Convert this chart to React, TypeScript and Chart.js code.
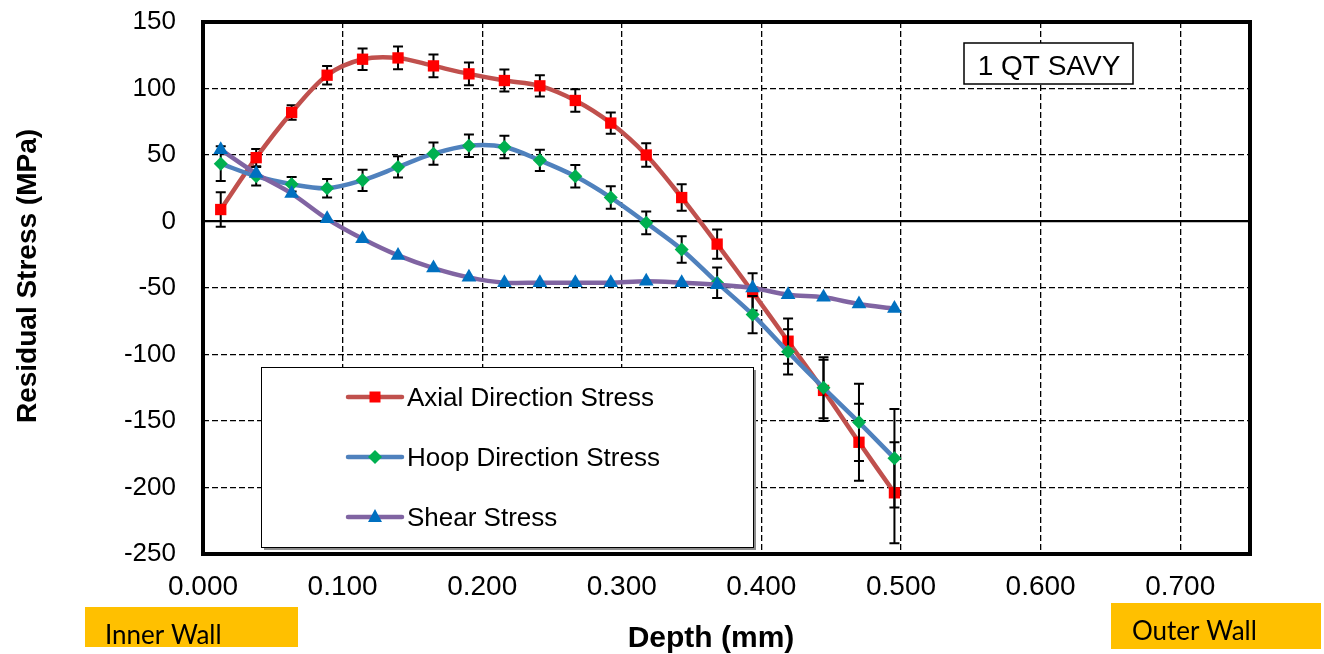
import React, { useEffect, useRef } from 'react';
import { Chart, registerables } from 'chart.js';

Chart.register(...registerables);

// ---- data ----
const depthMm = [
  0.0127, 0.0381, 0.0635, 0.0889, 0.1143, 0.1397, 0.1651, 0.1905, 0.2159, 0.2413,
  0.2667, 0.2921, 0.3175, 0.3429, 0.3683, 0.3937, 0.4191, 0.4445, 0.4699, 0.4953,
];
const axialStress = [9, 48, 82, 110, 122, 123, 117, 111, 106, 102, 91, 74, 50, 18, -17, -53, -90, -127, -166, -204];
const axialError = [13, 6.5, 5.5, 7, 8, 8.5, 8.5, 8.5, 8.3, 8, 8.4, 8, 8.8, 10, 11, 14, 17, 23, 29, 38];
const hoopStress = [43.5, 34, 28, 25, 31, 41, 51, 57, 56, 46, 34, 18, -1, -21, -46, -70, -98, -125, -151, -178];
const hoopError = [13, 7, 5.5, 7, 8, 8, 8.4, 8.5, 8.5, 8, 8.5, 8.5, 8.5, 10, 11.5, 14, 17, 23, 29, 37];
const shearStress = [54, 36, 21, 2, -13, -25.5, -35, -42, -46, -46, -46, -46, -45, -46, -47.5, -50, -55, -57, -62, -65.5];

const seriesNames = ['Axial Direction Stress', 'Hoop Direction Stress', 'Shear Stress'];
const xTickValues = [0, 0.1, 0.2, 0.3, 0.4, 0.5, 0.6, 0.7];
const yTickValues = [-250, -200, -150, -100, -50, 0, 50, 100, 150];
const xTitle = 'Depth (mm)';
const yTitle = 'Residual Stress (MPa)';
const sampleLabel = '1 QT SAVY';
const innerLabel = 'Inner Wall';
const outerLabel = 'Outer Wall';

const FONT = '"Liberation Sans", Arial, sans-serif';

const AXIAL_LINE = '#C0504D';
const AXIAL_MARK = '#FF0000';
const HOOP_LINE = '#4F81BD';
const HOOP_MARK = '#00B050';
const SHEAR_LINE = '#8064A2';
const SHEAR_MARK = '#0070C0';

function drawMarker(ctx: CanvasRenderingContext2D, kind: string, x: number, y: number, color: string) {
  ctx.save();
  ctx.fillStyle = color;
  ctx.beginPath();
  if (kind === 'rect') {
    ctx.rect(x - 5.5, y - 5.5, 11, 11);
  } else if (kind === 'diamond') {
    ctx.moveTo(x, y - 7);
    ctx.lineTo(x + 7, y);
    ctx.lineTo(x, y + 7);
    ctx.lineTo(x - 7, y);
    ctx.closePath();
  } else {
    ctx.moveTo(x, y - 8);
    ctx.lineTo(x + 7, y + 5);
    ctx.lineTo(x - 7, y + 5);
    ctx.closePath();
  }
  ctx.fill();
  ctx.restore();
}

const decorPlugin = {
  id: 'decor',
  beforeDatasetDraw(chart: any, args: any) {
    const ds = chart.data.datasets[args.index] as any;
    const errs: number[] | undefined = ds.errorBars;
    if (!errs) return;
    const ctx: CanvasRenderingContext2D = chart.ctx;
    const xs = chart.scales.x;
    const ys = chart.scales.y;
    ctx.save();
    ctx.strokeStyle = '#000';
    ctx.lineWidth = 2;
    ds.data.forEach((p: any, i: number) => {
      const e = errs[i];
      const px = xs.getPixelForValue(p.x);
      const y1 = ys.getPixelForValue(p.y + e);
      const y2 = ys.getPixelForValue(p.y - e);
      ctx.beginPath();
      ctx.moveTo(px, y1);
      ctx.lineTo(px, y2);
      ctx.moveTo(px - 5, y1);
      ctx.lineTo(px + 5, y1);
      ctx.moveTo(px - 5, y2);
      ctx.lineTo(px + 5, y2);
      ctx.stroke();
    });
    ctx.restore();
  },
  afterDraw(chart: any) {
    const ctx: CanvasRenderingContext2D = chart.ctx;
    const a = chart.chartArea;
    ctx.save();
    // plot border
    ctx.strokeStyle = '#000';
    ctx.lineWidth = 4;
    ctx.strokeRect(a.left, a.top, a.right - a.left, a.bottom - a.top);

    // legend box
    const lx = 261, ly = 367, lw = 492, lh = 180;
    ctx.fillStyle = '#8c8c8c';
    ctx.fillRect(lx + 3, ly + 3, lw, lh);
    ctx.fillStyle = '#fff';
    ctx.fillRect(lx, ly, lw, lh);
    ctx.strokeStyle = '#000';
    ctx.lineWidth = 1;
    ctx.strokeRect(lx + 0.5, ly + 0.5, lw, lh);
    const rows = [397, 457, 517];
    const lineCols = [AXIAL_LINE, HOOP_LINE, SHEAR_LINE];
    const markCols = [AXIAL_MARK, HOOP_MARK, SHEAR_MARK];
    const kinds = ['rect', 'diamond', 'triangle'];
    rows.forEach((ry, i) => {
      ctx.strokeStyle = lineCols[i];
      ctx.lineWidth = 4.5;
      ctx.lineCap = 'round';
      ctx.beginPath();
      ctx.moveTo(348, ry);
      ctx.lineTo(402, ry);
      ctx.stroke();
      drawMarker(ctx, kinds[i], 375, ry, markCols[i]);
      ctx.fillStyle = '#000';
      ctx.font = `26px ${FONT}`;
      ctx.textAlign = 'left';
      ctx.textBaseline = 'alphabetic';
      ctx.fillText(seriesNames[i], 407, ry + 9);
    });

    // sample annotation box
    ctx.fillStyle = '#fff';
    ctx.fillRect(964, 43, 169, 41);
    ctx.strokeStyle = '#000';
    ctx.lineWidth = 1.5;
    ctx.strokeRect(964, 43, 169, 41);
    ctx.fillStyle = '#000';
    ctx.font = `28px ${FONT}`;
    ctx.textAlign = 'center';
    ctx.textBaseline = 'alphabetic';
    ctx.fillText(sampleLabel, 1049, 75);

    // axis titles
    ctx.font = `bold 30px ${FONT}`;
    ctx.fillText(xTitle, 711, 647);
    ctx.save();
    ctx.translate(36, 276);
    ctx.rotate(-Math.PI / 2);
    ctx.font = `bold 28px ${FONT}`;
    ctx.fillText(yTitle, 0, 0);
    ctx.restore();

    // wall labels
    ctx.fillStyle = '#FFC000';
    ctx.fillRect(85, 607, 213, 40);
    ctx.fillRect(1111, 603, 210, 46);
    ctx.fillStyle = '#000';
    ctx.textAlign = 'left';
    ctx.font = `26px Lato, "Open Sans", sans-serif`;
    ctx.fillText(innerLabel, 105, 644, 121);
    ctx.fillText(outerLabel, 1132, 640, 128);
    ctx.restore();
  },
};

export default function App() {
  const ref = useRef<HTMLCanvasElement>(null);
  useEffect(() => {
    document.body.style.margin = '0';
    const canvas = ref.current;
    if (!canvas) return;
    const mk = (vals: number[]) => depthMm.map((d, i) => ({ x: d, y: vals[i] }));
    const chart = new Chart(canvas, {
      type: 'line',
      data: {
        datasets: [
          {
            label: seriesNames[0],
            data: mk(axialStress),
            borderColor: AXIAL_LINE,
            backgroundColor: AXIAL_MARK,
            pointBackgroundColor: AXIAL_MARK,
            pointBorderColor: AXIAL_MARK,
            pointStyle: 'rect',
            pointRadius: 8,
            pointBorderWidth: 0,
            borderWidth: 4.5,
            tension: 0.33,
            order: 3,
            errorBars: axialError,
          } as any,
          {
            label: seriesNames[1],
            data: mk(hoopStress),
            borderColor: HOOP_LINE,
            backgroundColor: HOOP_MARK,
            pointBackgroundColor: HOOP_MARK,
            pointBorderColor: HOOP_MARK,
            pointStyle: 'rectRot',
            pointRadius: 7,
            pointBorderWidth: 0,
            borderWidth: 4.5,
            tension: 0.33,
            order: 2,
            errorBars: hoopError,
          } as any,
          {
            label: seriesNames[2],
            data: mk(shearStress),
            borderColor: SHEAR_LINE,
            backgroundColor: SHEAR_MARK,
            pointBackgroundColor: SHEAR_MARK,
            pointBorderColor: SHEAR_MARK,
            pointStyle: 'triangle',
            pointRadius: 8.5,
            pointBorderWidth: 0,
            borderWidth: 4.5,
            tension: 0.33,
            order: 1,
          } as any,
        ],
      },
      options: {
        responsive: false,
        animation: false,
        devicePixelRatio: 1,
        layout: { padding: { top: 22, right: 74, left: 0, bottom: 0 } },
        plugins: { legend: { display: false }, tooltip: { enabled: false } },
        scales: {
          x: {
            type: 'linear',
            min: 0,
            max: 0.75,
            afterBuildTicks: (s: any) => {
              s.ticks = xTickValues.map((v) => ({ value: v }));
            },
            afterFit: (s: any) => {
              s.height = 100;
              s.paddingLeft = 0;
              s.paddingRight = 0;
            },
            ticks: {
              color: '#000',
              font: { family: FONT, size: 28 },
              padding: 16,
              maxRotation: 0,
              autoSkip: false,
              callback: (v: any) => Number(v).toFixed(3),
            },
            grid: { color: '#000', lineWidth: 1.3, drawTicks: false },
            border: { display: false, dash: [6, 3] },
          },
          y: {
            type: 'linear',
            min: -250,
            max: 150,
            afterBuildTicks: (s: any) => {
              s.ticks = yTickValues.map((v) => ({ value: v }));
            },
            afterFit: (s: any) => {
              s.width = 203;
              s.paddingTop = 0;
              s.paddingBottom = 0;
            },
            ticks: {
              color: '#000',
              font: { family: FONT, size: 26 },
              padding: 27,
              autoSkip: false,
            },
            grid: {
              color: '#000',
              lineWidth: (c: any) => (c.tick && c.tick.value === 0 ? 2.2 : 1.3),
              drawTicks: false,
            },
            border: {
              display: false,
              dash: (c: any) => (c.tick && c.tick.value === 0 ? [] : [6, 3]),
            },
          },
        },
      },
      plugins: [decorPlugin],
    } as any);
    return () => chart.destroy();
  }, []);
  return (
    <div style={{ position: 'absolute', left: 0, top: 0, width: 1324, height: 654, background: '#fff' }}>
      <canvas ref={ref} width={1324} height={654} style={{ display: 'block', width: 1324, height: 654 }} />
    </div>
  );
}
